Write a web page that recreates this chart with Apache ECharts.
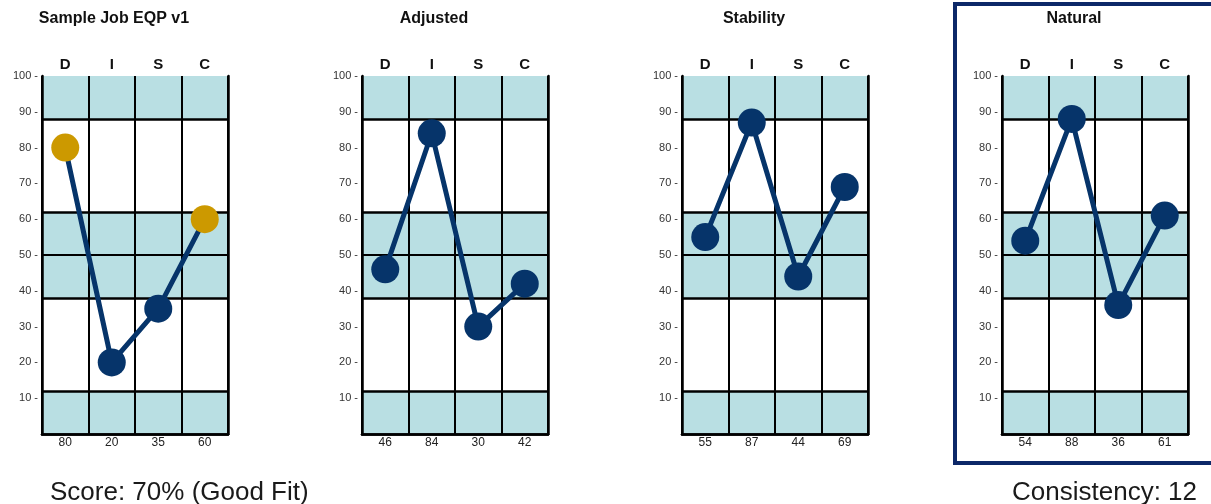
<!DOCTYPE html>
<html>
<head>
<meta charset="utf-8">
<script src="https://cdn.jsdelivr.net/npm/echarts@6/dist/echarts.min.js"></script>
<style>
  html, body { margin: 0; padding: 0; background: #fff; }
  #disc_chart { width: 1211px; height: 504px; }
</style>
</head>
<body>
<div id="disc_chart"></div>
<script>
// chart values
var panelTitles = ['Sample Job EQP v1', 'Adjusted', 'Stability', 'Natural'];
var discLabels = ['D', 'I', 'S', 'C'];
var jobScores = [80, 20, 35, 60];
var adjustedScores = [46, 84, 30, 42];
var stabilityScores = [55, 87, 44, 69];
var naturalScores = [54, 88, 36, 61];
var jobGoldPoints = [0, 3];
var shadedBands = [[0, 12], [38, 62], [88, 100]];
var bandLines = [12, 38, 62, 88];
var midLine = 50;
var scoreText = 'Score: 70% (Good Fit)';
var consistencyText = 'Consistency: 12';

var panelScores = [jobScores, adjustedScores, stabilityScores, naturalScores];
var panelGold = [jobGoldPoints, [], [], []];

var NAVY = '#06346a';
var GOLD = '#cc9900';
var SHADE = '#b9dfe3';
var FONT = 'Liberation Sans, Arial, sans-serif';

var gridLefts = [42, 362, 682, 1002];
var gridWidth = 186;

var grids = [], xAxes = [], yAxes = [], series = [], graphics = [];

for (var i = 0; i < 4; i++) {
    grids.push({left: gridLefts[i], top: 76, width: gridWidth, height: 358});

    // top axis: D I S C
    xAxes.push({
        type: 'category', gridIndex: i, position: 'top', data: discLabels, z: 3,
        axisLine: {show: true, lineStyle: {color: '#000', width: 2.5}},
        axisTick: {show: false},
        axisLabel: {color: '#111', fontSize: 15, fontWeight: 'bold', fontFamily: FONT, margin: 4},
        splitLine: {show: true, lineStyle: {color: '#000', width: 2}}
    });
    // bottom axis: the scores
    xAxes.push({
        type: 'category', gridIndex: i, position: 'bottom', z: 3,
        data: panelScores[i].map(function (v) { return String(v); }),
        axisLine: {show: true, lineStyle: {color: '#000', width: 2.5}},
        axisTick: {show: false},
        axisLabel: {color: '#222', fontSize: 12, fontFamily: FONT, margin: 3}
    });
    yAxes.push({
        type: 'value', gridIndex: i, min: 0, max: 100, interval: 10, z: 3,
        axisLine: {show: true, lineStyle: {color: '#000', width: 2.5}},
        axisTick: {show: false},
        splitLine: {show: false},
        axisLabel: {
            color: '#333', fontSize: 11, fontFamily: FONT, margin: 4,
            formatter: function (v) { return v === 0 ? '' : v + ' -'; }
        }
    });
    yAxes.push({
        type: 'value', gridIndex: i, min: 0, max: 100, position: 'right', z: 3,
        axisLine: {show: true, lineStyle: {color: '#000', width: 2.5}},
        axisTick: {show: false}, axisLabel: {show: false}, splitLine: {show: false}
    });

    // shaded bands
    series.push({
        type: 'line', xAxisIndex: i * 2, yAxisIndex: i * 2, z: 1, data: [],
        silent: true,
        markArea: {
            silent: true,
            itemStyle: {color: SHADE, opacity: 1},
            data: shadedBands.map(function (b) { return [{yAxis: b[0]}, {yAxis: b[1]}]; })
        }
    });
    // horizontal band lines
    var hl = bandLines.map(function (v) { return {yAxis: v, lineStyle: {width: 2.5}}; });
    hl.push({yAxis: midLine, lineStyle: {width: 1.8}});
    series.push({
        type: 'line', xAxisIndex: i * 2, yAxisIndex: i * 2, z: 4, data: [],
        silent: true,
        markLine: {
            silent: true, symbol: 'none', label: {show: false},
            lineStyle: {color: '#000', type: 'solid'},
            data: hl
        }
    });

    var gold = panelGold[i];
    series.push({
        type: 'line', xAxisIndex: i * 2, yAxisIndex: i * 2, z: 5,
        symbol: 'circle', symbolSize: 28,
        lineStyle: {color: NAVY, width: 5},
        itemStyle: {color: NAVY},
        data: panelScores[i].map(function (v, k) {
            return gold.indexOf(k) >= 0 ? {value: v, itemStyle: {color: GOLD}} : v;
        })
    });

    graphics.push({
        type: 'text', x: gridLefts[i] - 42 + 114, y: 19,
        style: {text: panelTitles[i], font: 'bold 16px ' + FONT, fill: '#111',
                textAlign: 'center', textVerticalAlign: 'middle'}
    });
}

// box round the natural panel
graphics.push({
    type: 'rect', shape: {x: 955, y: 4, width: 280, height: 459},
    style: {fill: 'none', stroke: '#0c2868', lineWidth: 4}, z: 10
});
graphics.push({
    type: 'text', x: 50, y: 493,
    style: {text: scoreText, font: '26px ' + FONT, fill: '#1a1a1a',
            textAlign: 'left', textVerticalAlign: 'middle'}
});
graphics.push({
    type: 'text', x: 1197, y: 493,
    style: {text: consistencyText, font: '26px ' + FONT, fill: '#1a1a1a',
            textAlign: 'right', textVerticalAlign: 'middle'}
});

var myChart = echarts.init(document.getElementById('disc_chart'));
var option = {
    animation: false,
    grid: grids,
    xAxis: xAxes,
    yAxis: yAxes,
    series: series,
    graphic: graphics
};
myChart.setOption(option);
</script>
</body>
</html>
